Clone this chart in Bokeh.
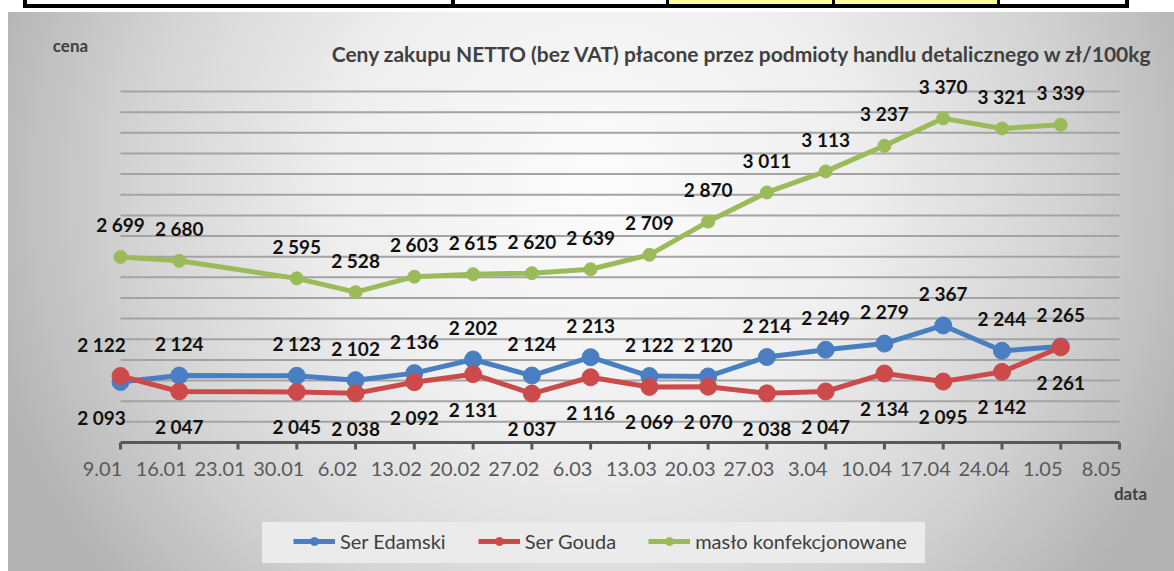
from bokeh.plotting import figure
from bokeh.models import (Range1d, ColumnDataSource, LabelSet, Label, Legend, LegendItem)
from bokeh.core.properties import value
from bokeh.embed import file_html
from bokeh.resources import INLINE

# ---------------- data ----------------
dates = ["9.01", "16.01", "23.01", "30.01", "6.02", "13.02", "20.02", "27.02", "6.03",
         "13.03", "20.03", "27.03", "3.04", "10.04", "17.04", "24.04", "1.05", "8.05"]
ser_edamski = [2093, 2124, None, 2123, 2102, 2136, 2202, 2124, 2213, 2122, 2120,
               2214, 2249, 2279, 2367, 2244, 2265, None]
ser_gouda = [2122, 2047, None, 2045, 2038, 2092, 2131, 2037, 2116, 2069, 2070,
             2038, 2047, 2134, 2095, 2142, 2261, None]
maslo = [2699, 2680, None, 2595, 2528, 2603, 2615, 2620, 2639, 2709, 2870,
         3011, 3113, 3237, 3370, 3321, 3339, None]
series_names = ["Ser Edamski", "Ser Gouda", "masło konfekcjonowane"]
title_text = "Ceny zakupu NETTO (bez VAT) płacone przez podmioty handlu detalicznego w zł/100kg"
y_label_text = "cena"
x_label_text = "data"
y_min, y_max, y_step = 1800, 3500, 100

# ---------------- layout / style ----------------
FONT = "Lato"
W, H = 1174, 571
PX_FIRST, PX_LAST = 120, 1119      # pixel x of first and last date tick
PY_TOP, PY_AXIS = 91, 442          # pixel y of top gridline and of the axis
colors = ["#4a7ec2", "#cd4a4a", "#9bbb59"]

n = len(dates)
u = (PX_LAST - PX_FIRST) / (n - 1)             # px per date step
v = (PY_AXIS - PY_TOP) / (y_max - y_min)       # px per price unit
x_start = -PX_FIRST / u
y_start = y_min - (H - PY_AXIS) / v

bg_layers = [
    # fragment of a table above the chart
    "linear-gradient(#000,#000) 23px 0px / 4px 8px no-repeat",
    "linear-gradient(#000,#000) 451px 0px / 4px 8px no-repeat",
    "linear-gradient(#000,#000) 666px 0px / 3px 8px no-repeat",
    "linear-gradient(#000,#000) 832px 0px / 3px 8px no-repeat",
    "linear-gradient(#000,#000) 997px 0px / 3px 8px no-repeat",
    "linear-gradient(#000,#000) 1125px 0px / 4px 8px no-repeat",
    "linear-gradient(#000,#000) 23px 4px / 1106px 4px no-repeat",
    "linear-gradient(#ffff99,#ffff99) 669px 0px / 163px 4px no-repeat",
    "linear-gradient(#ffff99,#ffff99) 835px 0px / 162px 4px no-repeat",
    # legend box
    "linear-gradient(#ebebeb,#ebebeb) 262px 522px / 663px 41px no-repeat",
    # chart area
    "radial-gradient(ellipse 640px 620px at 590px 180px, #fcfcfc 0%, #efefef 40%, "
    "#d4d4d4 72%, #b2b2b2 100%) 8px 12px / 1166px 559px no-repeat",
    "#ffffff",
]

p = figure(width=W, height=H, output_backend="svg", toolbar_location=None,
           x_range=Range1d(x_start, x_start + W / u),
           y_range=Range1d(y_start, y_start + H / v),
           x_axis_location=None, y_axis_location=None,
           min_border=0)
p.styles = {"background": ", ".join(bg_layers)}
p.border_fill_color = None
p.background_fill_color = None
p.outline_line_color = None
p.xgrid.visible = False
p.ygrid.visible = False

# horizontal gridlines
grid_y = list(range(y_min + y_step, y_max + 1, y_step))
p.segment(x0=[0] * len(grid_y), x1=[n - 1] * len(grid_y), y0=grid_y, y1=grid_y,
          line_color="#a3a3a3", line_width=2)

# x axis line and ticks
ticks = list(range(n))
p.segment(x0=[0], x1=[n - 1], y0=[y_min], y1=[y_min], line_color="#595959", line_width=3)
p.segment(x0=ticks, x1=ticks, y0=[y_min] * n, y1=[y_min - 7 / v] * n,
          line_color="#595959", line_width=3)

all_series = [ser_edamski, ser_gouda, maslo]
fmt = lambda val: f"{val:,}".replace(",", " ")

legend_items = []
for idx in [2, 0, 1]:
    vals = all_series[idx]
    xs = [k for k, val in enumerate(vals) if val is not None]
    ys = [val for val in vals if val is not None]
    if idx == 2:
        offs = [32] * len(xs)
        xoffs = [0] * len(xs)
    else:
        other = all_series[1 - idx]
        offs = [32 if vals[k] >= other[k] else -35 for k in xs]
        xoffs = [-19 if k == 0 else 0 for k in xs]
    src = ColumnDataSource(dict(x=xs, y=ys, t=[fmt(val) for val in ys], off=offs, xoff=xoffs))
    lr = p.line("x", "y", source=src, line_color=colors[idx], line_width=5, line_join="round")
    sr = p.scatter("x", "y", source=src, size=13 if idx == 2 else 17,
                   fill_color=colors[idx], line_color=colors[idx])
    legend_items.append((idx, LegendItem(label=series_names[idx], renderers=[lr, sr])))
    p.add_layout(LabelSet(x="x", y="y", text="t", source=src, y_offset="off", x_offset="xoff",
                          text_align="center", text_baseline="middle",
                          text_font=value(FONT), text_font_style="bold",
                          text_font_size="19px", text_color="#111111"))

# date labels (shifted left of their ticks, as in the original)
date_src = ColumnDataSource(dict(x=ticks, y=[H - 468] * n, t=dates))
p.add_layout(LabelSet(x="x", y="y", y_units="screen", text="t", source=date_src, x_offset=-18,
                      text_align="center", text_baseline="middle",
                      text_font=value(FONT), text_font_size="20px", text_color="#595959"))

# titles
p.add_layout(Label(x=742, y=H - 53, x_units="screen", y_units="screen", text=title_text,
                   text_align="center", text_baseline="middle", text_font=FONT,
                   text_font_style="bold", text_font_size="21px", text_color="#404040"))
p.add_layout(Label(x=70, y=H - 45, x_units="screen", y_units="screen", text=y_label_text,
                   text_align="center", text_baseline="middle", text_font=FONT,
                   text_font_style="bold", text_font_size="17px", text_color="#404040"))
p.add_layout(Label(x=1130, y=H - 493, x_units="screen", y_units="screen", text=x_label_text,
                   text_align="center", text_baseline="middle", text_font=FONT,
                   text_font_style="bold", text_font_size="17px", text_color="#404040"))

legend_items.sort(key=lambda t: t[0])
legend = Legend(items=[it for _, it in legend_items], location=(285, 10),
                orientation="horizontal", glyph_width=42, glyph_height=20,
                label_standoff=5, spacing=32, padding=8,
                background_fill_alpha=0, border_line_alpha=0,
                label_text_font=FONT, label_text_font_size="20px",
                label_text_color="#404040")
p.add_layout(legend)

open("out.html", "w").write(file_html(p, INLINE))
